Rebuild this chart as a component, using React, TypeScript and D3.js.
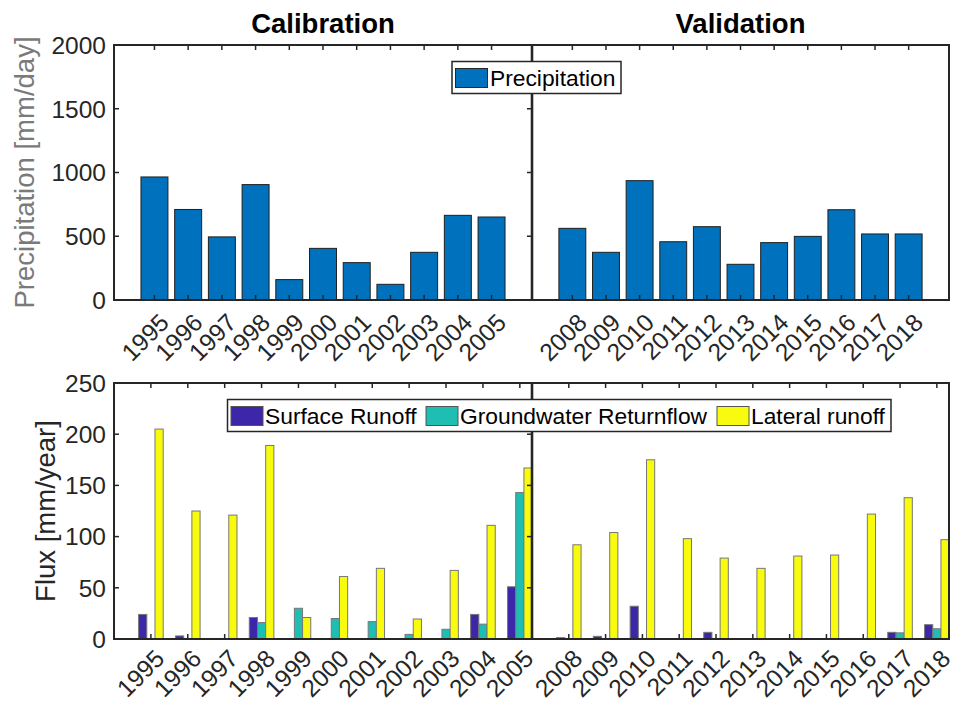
import React from 'react';
import * as d3 from 'd3';

const calYears = ['1995', '1996', '1997', '1998', '1999', '2000', '2001', '2002', '2003', '2004', '2005'];
const valYears = ['2008', '2009', '2010', '2011', '2012', '2013', '2014', '2015', '2016', '2017', '2018'];

const precipCal = [965, 710, 495, 905, 160, 405, 293, 123, 374, 664, 651];
const precipVal = [562, 374, 936, 457, 575, 280, 450, 499, 708, 518, 518];

const surfaceCal = [24, 3, 0.5, 21, 0.3, 0.3, 0.3, 0.3, 0.3, 24, 51];
const groundCal = [0.5, 0.3, 0.5, 16, 30, 20, 17, 4.5, 9.5, 14.5, 143];
const lateralCal = [205, 125, 121, 189, 21, 61, 69, 19.5, 67, 111, 167];

const surfaceVal = [1.3, 2.6, 32, 0.3, 6.5, 0.3, 0.3, 0.3, 0.5, 6.5, 14];
const groundVal = [0.3, 0.3, 0.3, 0.3, 0.3, 0.3, 0.3, 0.3, 0.3, 6, 10];
const lateralVal = [92, 104, 175, 98, 79, 69, 81, 82, 122, 138, 97];

const precipTicks = [0, 500, 1000, 1500, 2000];
const fluxTicks = [0, 50, 100, 150, 200, 250];

const titles = ['Calibration', 'Validation'];
const fluxNames = ['Surface Runoff', 'Groundwater Returnflow', 'Lateral runoff'];
const precipName = 'Precipitation';

const precipColor = '#0072BD';
const fluxColors = ['#3E26A8', '#1FBEB2', '#F9FB0E'];

const AX = '#262626';
const FONT = '"Liberation Sans", Arial, Helvetica, sans-serif';

const L = 114;
const M = 532;
const R = 949;
const TOP1 = 45;
const BOT1 = 300;
const TOP2 = 383;
const BOT2 = 639;

export default function App() {
  const yP = d3.scaleLinear().domain([0, 2000]).range([BOT1, TOP1]);
  const yF = d3.scaleLinear().domain([0, 250]).range([BOT2, TOP2]);

  const panels = [
    { years: calYears, x0: L, x1: M, precip: precipCal, flux: [surfaceCal, groundCal, lateralCal], title: titles[0], left: true },
    { years: valYears, x0: M, x1: R, precip: precipVal, flux: [surfaceVal, groundVal, lateralVal], title: titles[1], left: false },
  ];

  const tickFs = 24.5;
  const labelFs = 27.5;
  const legFs = 22.8;

  return (
    <div style={{ position: 'absolute', left: 0, top: 0 }}>
      <svg width={955} height={705} style={{ display: 'block', background: '#fff' }} fontFamily={FONT}>
        <defs>
          <clipPath id="clipL"><rect x={L} y={TOP2} width={M - L} height={BOT2 - TOP2} /></clipPath>
          <clipPath id="clipR"><rect x={M} y={TOP2} width={R - M} height={BOT2 - TOP2} /></clipPath>
        </defs>
        {panels.map((p, pi) => {
          const xs = d3.scaleLinear().domain([-0.2, 12.2]).range([p.x0, p.x1]);
          const bw = xs(0.8) - xs(0);
          const xf = d3.scaleLinear().domain([0, 11.33]).range([p.x0, p.x1]);
          const gw = xf(2 / 9) - xf(0);
          return (
            <g key={pi}>
              {/* title */}
              <text x={(p.x0 + p.x1) / 2} y={33} textAnchor="middle" fontWeight="bold" fontSize={labelFs} fill="#000">{p.title}</text>

              {/* top panel bars */}
              {p.precip.map((v, i) => (
                <rect key={i} x={xs(i + 1) - bw / 2} y={yP(v)} width={bw} height={yP(0) - yP(v)}
                  fill={precipColor} stroke="#1f1f1f" strokeWidth={1} />
              ))}
              {/* top panel x ticks (over bars) */}
              {p.years.map((yr, i) => (
                <g key={yr}>
                  <line x1={xs(i + 1)} x2={xs(i + 1)} y1={BOT1} y2={BOT1 - 5} stroke={AX} strokeWidth={1.5} />
                  <line x1={xs(i + 1)} x2={xs(i + 1)} y1={TOP1} y2={TOP1 + 5} stroke={AX} strokeWidth={1.5} />
                  <text transform={`translate(${xs(i + 1) + 16},${BOT1 + 24}) rotate(-45)`} textAnchor="end"
                    fontSize={tickFs} fill={AX}>{yr}</text>
                </g>
              ))}

              {/* bottom panel x ticks (under bars) */}
              {p.years.map((yr, i) => (
                <g key={'b' + yr}>
                  <line x1={xf(i + 1)} x2={xf(i + 1)} y1={BOT2} y2={BOT2 - 5} stroke={AX} strokeWidth={1.5} />
                  <line x1={xf(i + 1)} x2={xf(i + 1)} y1={TOP2} y2={TOP2 + 5} stroke={AX} strokeWidth={1.5} />
                  <text transform={`translate(${xf(i + 1) + 15},${BOT2 + 21}) rotate(-45)`} textAnchor="end"
                    fontSize={tickFs} fill={AX}>{yr}</text>
                </g>
              ))}
              {/* bottom panel bars */}
              <g clipPath={`url(#${p.left ? 'clipL' : 'clipR'})`}>
                {p.flux.map((series, si) =>
                  series.map((v, i) => {
                    const cx = xf(i + 1 + (si - 1) * (2 / 9));
                    return (
                      <rect key={si + '-' + i} x={cx - gw / 2} y={yF(v)} width={gw} height={yF(0) - yF(v)}
                        fill={fluxColors[si]} stroke="#777" strokeWidth={1} />
                    );
                  })
                )}
              </g>
            </g>
          );
        })}

        {/* y ticks for left axes (both sides) */}
        {precipTicks.map((t) => (
          <g key={'pt' + t}>
            <line x1={L} x2={L + 5} y1={yP(t)} y2={yP(t)} stroke={AX} strokeWidth={1.5} />
            <line x1={M} x2={M - 5} y1={yP(t)} y2={yP(t)} stroke={AX} strokeWidth={1.5} />
            <text x={L - 8} y={yP(t)} dy="0.36em" textAnchor="end" fontSize={tickFs} fill={AX}>{t}</text>
          </g>
        ))}
        {fluxTicks.map((t) => (
          <g key={'ft' + t}>
            <line x1={L} x2={L + 5} y1={yF(t)} y2={yF(t)} stroke={AX} strokeWidth={1.5} />
            <line x1={M} x2={M - 5} y1={yF(t)} y2={yF(t)} stroke={AX} strokeWidth={1.5} />
            <text x={L - 8} y={yF(t)} dy="0.36em" textAnchor="end" fontSize={tickFs} fill={AX}>{t}</text>
          </g>
        ))}

        {/* axes boxes */}
        <rect x={L} y={TOP1} width={R - L} height={BOT1 - TOP1} fill="none" stroke={AX} strokeWidth={2} />
        <line x1={M} x2={M} y1={TOP1} y2={BOT1} stroke={AX} strokeWidth={2.6} />
        <rect x={L} y={TOP2} width={R - L} height={BOT2 - TOP2} fill="none" stroke={AX} strokeWidth={2} />
        <line x1={M} x2={M} y1={TOP2} y2={BOT2} stroke={AX} strokeWidth={2.6} />

        {/* y labels */}
        <text transform={`translate(34,${(TOP1 + BOT1) / 2}) rotate(-90)`} textAnchor="middle" fontSize={labelFs} fill="#7a7a7a">
          Precipitation [mm/day]
        </text>
        <text transform={`translate(55,${(TOP2 + BOT2) / 2}) rotate(-90)`} textAnchor="middle" fontSize={labelFs} fill={AX}>
          Flux [mm/year]
        </text>

        {/* top legend */}
        <g>
          <rect x={452} y={61.5} width={169} height={32} fill="#fff" stroke={AX} strokeWidth={1.5} />
          <rect x={455.5} y={68.5} width={32} height={19} fill={precipColor} stroke={AX} strokeWidth={1} />
          <text x={490} y={86} fontSize={legFs} fill="#000">{precipName}</text>
        </g>

        {/* bottom legend */}
        <g>
          <rect x={227.5} y={399.5} width={663.5} height={32} fill="#fff" stroke={AX} strokeWidth={1.5} />
          {fluxNames.map((n, i) => {
            const sx = [231, 426, 717][i];
            return (
              <g key={n}>
                <rect x={sx} y={406.5} width={32} height={19} fill={fluxColors[i]} stroke="#555" strokeWidth={1} />
                <text x={sx + 34} y={424} fontSize={legFs} fill="#000">{n}</text>
              </g>
            );
          })}
        </g>
      </svg>
    </div>
  );
}
